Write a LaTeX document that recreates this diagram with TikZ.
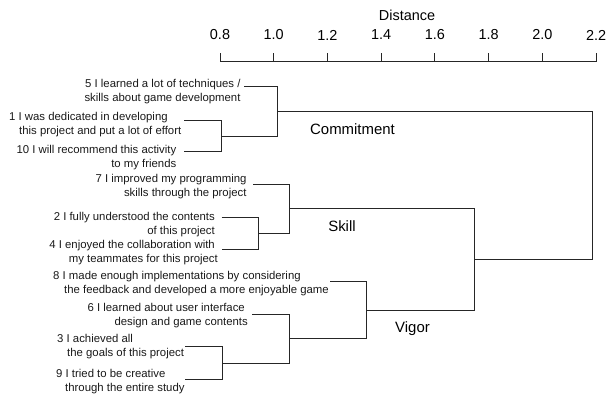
\documentclass[tikz,border=0pt]{standalone}
\usepackage{fontspec}
\setmainfont{Liberation Sans}
\begin{document}
\begin{tikzpicture}[x=1bp,y=-1bp,
  item/.style={font=\fontsize{11.4}{14}\selectfont, inner sep=0pt, text=black!90},
  clabel/.style={font=\fontsize{15}{18}\selectfont, inner sep=0pt},
  axlabel/.style={font=\fontsize{14.5}{17}\selectfont, inner sep=0pt},
  tree/.style={line width=1bp, draw=black!85},
]
\useasboundingbox (0,0) rectangle (613,398);

% axis
\node[axlabel] (dist) at (407,15) {Distance};
\foreach \d/\lab [count=\k] in {0.8/0.8,1.0/1.0,1.2/1.2,1.4/1.4,1.6/1.6,1.8/1.8,2.0/2.0,2.2/2.2}{
  \coordinate (t\k) at ({220+(\d-0.8)*268.6},61.7);
  \coordinate (tt\k) at ({220+(\d-0.8)*268.6},53.3);
  \node[axlabel] (tl\k) at ({220+(\d-0.8)*268.6},35) {\lab};
  \draw[tree] (t\k) -- (tt\k);
}
\draw[tree] (t1) -- (t8);

% items
\node[item, align=right, anchor=east] (i5) at (240.7,91.5) {5 I learned a lot of techniques /\\skills about game development};
\node[item, align=left, anchor=west] (i1) at (9,125) {1 I was dedicated in developing\\\rule{10bp}{0pt}this project and put a lot of effort};
\node[item, align=right, anchor=east] (i10) at (176.5,157.5) {10 I will recommend this activity\\to my friends};
\node[item, align=right, anchor=east] (i7) at (246.7,186.5) {7 I improved my programming\\skills through the project};
\node[item, align=right, anchor=east] (i2) at (215,225) {2 I fully understood the contents\\of this project};
\node[item, align=right, anchor=east] (i4) at (218,252.2) {4 I enjoyed the collaboration with\rule{3bp}{0pt}\\my teammates for this project};
\node[item, align=left, anchor=west] (i8) at (53,284) {8 I made enough implementations by considering\\\rule{11bp}{0pt}the feedback and developed a more enjoyable game};
\node[item, align=right, anchor=east] (i6) at (248,315.8) {6 I learned about user interface\rule{3bp}{0pt}\\design and game contents};
\node[item, align=left, anchor=west] (i3) at (57,347) {3 I achieved all\\\rule{10bp}{0pt}the goals of this project};
\node[item, align=left, anchor=west] (i9) at (56,382) {9 I tried to be creative\\\rule{9bp}{0pt}through the entire study};

% cluster labels
\node[clabel] (lcom) at (352.5,129.3) {Commitment};
\node[clabel] (lskill) at (342,226) {Skill};
\node[clabel] (lvigor) at (412.5,329) {Vigor};

% leaf connector starts
\coordinate (s5) at (244,86.7);
\coordinate (s1) at (184,120.7);
\coordinate (s10) at (184,151.7);
\coordinate (s7) at (253,184.3);
\coordinate (s2) at (221.7,217.7);
\coordinate (s4) at (221.7,249);
\coordinate (s8) at (330,281.7);
\coordinate (s6) at (252.3,314.3);
\coordinate (s3) at (185,346.7);
\coordinate (s9) at (185,379.3);

% merge points
\coordinate (a) at (221.5,136.2);
\coordinate (com) at (277.7,111.9);
\coordinate (b) at (258.3,233.3);
\coordinate (sk) at (289.3,208.5);
\coordinate (c) at (222.7,363);
\coordinate (d) at (289.3,338.3);
\coordinate (vg) at (366.7,310.5);
\coordinate (sv) at (474.3,259.3);
\coordinate (root) at (592,185);

\draw[tree] (s1) -| (a) |- (s10);
\draw[tree] (s5) -| (com) |- (a);
\draw[tree] (s2) -| (b) |- (s4);
\draw[tree] (s7) -| (sk) |- (b);
\draw[tree] (s3) -| (c) |- (s9);
\draw[tree] (s6) -| (d) |- (c);
\draw[tree] (s8) -| (vg) |- (d);
\draw[tree] (sk) -| (sv) |- (vg);
\draw[tree] (com) -| (root) |- (sv);
\end{tikzpicture}
\end{document}
